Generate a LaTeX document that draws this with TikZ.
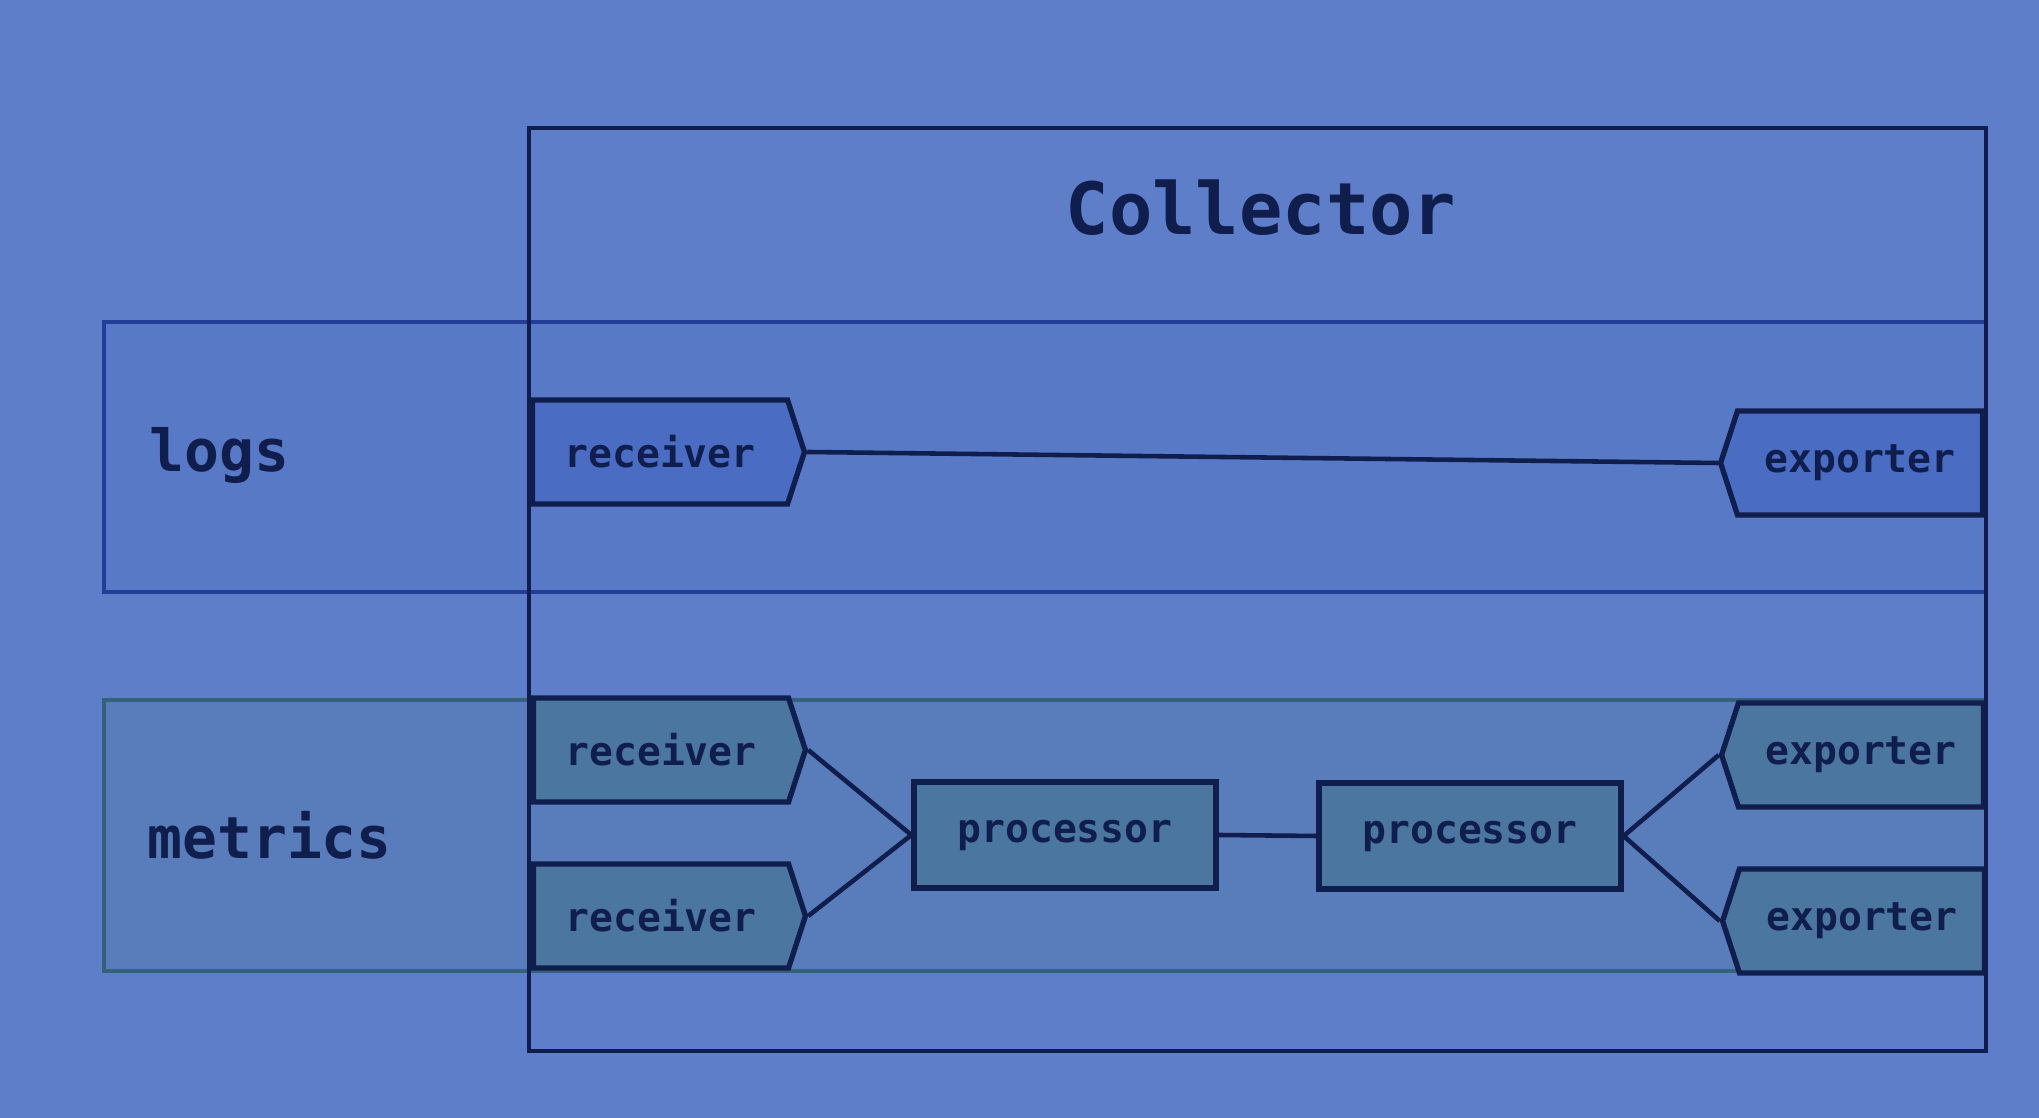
\documentclass[tikz,border=0pt]{standalone}
\usepackage{fontspec}
\setmonofont{DejaVu Sans Mono}
\usetikzlibrary{shapes.symbols}
\definecolor{bgblue}{RGB}{94,126,201}
\definecolor{logsfill}{RGB}{88,121,197}
\definecolor{logsline}{RGB}{34,62,150}
\definecolor{logsnode}{RGB}{74,108,194}
\definecolor{metricsfill}{RGB}{88,125,186}
\definecolor{metricsnode}{RGB}{74,118,160}
\definecolor{metricsline}{RGB}{52,98,122}
\definecolor{navy}{RGB}{16,30,78}
\tikzset{
  recv/.style={signal, signal to=east, signal pointer angle=144, draw=navy,
    line width=1.5pt, minimum width=2.72cm, minimum height=1.04cm, inner sep=0pt,
    text=navy, font=\ttfamily\bfseries\fontsize{11.3}{13}\selectfont},
  expo/.style={recv, signal to=west, minimum width=2.62cm},
  proc/.style={rectangle, draw=navy, fill=metricsnode, line width=1.5pt,
    minimum width=3.02cm, minimum height=1.06cm, inner sep=0pt,
    text=navy, font=\ttfamily\bfseries\fontsize{11.3}{13}\selectfont},
  band/.style={text=navy, font=\ttfamily\bfseries\fontsize{16.5}{20}\selectfont, anchor=west}
}
\begin{document}
\begin{tikzpicture}
\fill[bgblue] (0,0) rectangle (20.39,11.18);
\useasboundingbox (0,0) rectangle (20.39,11.18);
%
\filldraw[fill=logsfill, draw=logsline, line width=1.1pt] (1.04,7.96) rectangle (19.86,5.26);
\node (logs) [band] at (1.37,6.63) {logs};
%
\filldraw[fill=metricsfill, draw=metricsline, line width=1.1pt] (1.04,4.18) rectangle (19.86,1.47);
\node (metrics) [band] at (1.35,2.83) {metrics};
%
\draw[navy, line width=1.3pt] (5.29,9.90) rectangle (19.86,0.67);
\node (title) [text=navy, font=\ttfamily\bfseries\fontsize{20.5}{24}\selectfont] at (12.61,9.10) {Collector};
%
\node (lrecv) [recv, fill=logsnode] at (6.60,6.66) {receiver};
\node (lexpo) [expo, fill=logsnode] at (18.60,6.55) {exporter};
\draw[navy, line width=1.3pt] (lrecv.east) -- (lexpo.west);
%
\node (mrecva) [recv, fill=metricsnode] at (6.61,3.68) {receiver};
\node (mrecvb) [recv, fill=metricsnode] at (6.61,2.02) {receiver};
\node (proca) [proc] at (10.65,2.83) {processor};
\node (procb) [proc] at (14.70,2.82) {processor};
\node (mexpoa) [expo, fill=metricsnode] at (18.61,3.63) {exporter};
\node (mexpob) [expo, fill=metricsnode] at (18.62,1.97) {exporter};
%
\draw[navy, line width=1.3pt] (mrecva.east) -- (proca.west);
\draw[navy, line width=1.3pt] (mrecvb.east) -- (proca.west);
\draw[navy, line width=1.3pt] (proca.east) -- (procb.west);
\draw[navy, line width=1.3pt] (procb.east) -- (mexpoa.west);
\draw[navy, line width=1.3pt] (procb.east) -- (mexpob.west);
%
\end{tikzpicture}
\end{document}
